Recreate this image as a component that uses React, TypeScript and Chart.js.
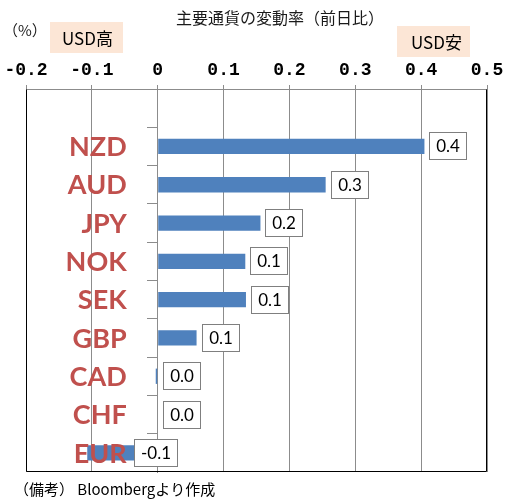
import React, { useEffect, useRef } from 'react';
import { Chart, registerables } from 'chart.js';

Chart.register(...registerables);

// Blank first slot leaves headroom above NZD inside the frame.
const categories = ['', 'NZD', 'AUD', 'JPY', 'NOK', 'SEK', 'GBP', 'CAD', 'CHF', 'EUR'];
const changes: (number | null)[] = [null, 0.405, 0.255, 0.156, 0.133, 0.134, 0.059, -0.003, 0.0, -0.107];

const xTicks = [-0.2, -0.1, 0, 0.1, 0.2, 0.3, 0.4, 0.5];
const xTickLabels = ['-0.2', '-0.1', '0', '0.1', '0.2', '0.3', '0.4', '0.5'];

const chartTitle = '主要通貨の変動率（前日比）';
const unitLabel = '（%）';
const usdStrong = 'USD高';
const usdWeak = 'USD安';
const sourceNote = '（備考） Bloombergより作成';

const BAR_BLUE = '#4F81BD';
const CAT_RED = '#C0504D';
const GRID_GRAY = '#8c8c8c';
const NOTE_BG = '#FCE6D6';
const JP_FONT = '"Noto Sans CJK JP", "Noto Sans", sans-serif';

function fmt(v: number): string {
  const s = v.toFixed(1);
  return s === '-0.0' ? '0.0' : s;
}

const decorations = {
  id: 'decorations',
  afterDraw(chart: any) {
    const { ctx, chartArea } = chart;
    const xs = chart.scales.x;
    const ys = chart.scales.y;
    ctx.save();

    // frame: left, right, bottom in black (top edge is the gray axis line)
    ctx.strokeStyle = '#000';
    ctx.lineWidth = 1;
    ctx.beginPath();
    const L = Math.round(chartArea.left) + 0.5;
    const R = Math.round(chartArea.right) - 0.5;
    const B = Math.round(chartArea.bottom) - 0.5;
    const T = Math.round(chartArea.top) + 0.5;
    ctx.moveTo(L, T);
    ctx.lineTo(L, B);
    ctx.lineTo(R, B);
    ctx.lineTo(R, T);
    ctx.stroke();

    const zero = xs.getPixelForValue(0);

    // currency names, right-aligned left of the zero axis, over the bars
    ctx.font = 'bold 27px Lato, "Open Sans", sans-serif';
    ctx.fillStyle = CAT_RED;
    ctx.textAlign = 'right';
    ctx.textBaseline = 'middle';
    categories.forEach((name, i) => {
      if (!name) return;
      ctx.fillText(name, zero - 31, ys.getPixelForValue(i) + 1);
    });

    // value boxes
    const meta = chart.getDatasetMeta(0);
    ctx.font = '17px Lato, "Open Sans", sans-serif';
    ctx.textAlign = 'center';
    meta.data.forEach((bar: any, i: number) => {
      const v = changes[i];
      if (v === null || v === undefined) return;
      const text = fmt(v);
      const tw = ctx.measureText(text).width;
      const w = Math.round(tw + 14);
      const h = 28;
      const left = Math.round(v > -0.05 ? Math.max(bar.x, zero) + 5 : zero - 24);
      const top = Math.round(bar.y - h / 2);
      ctx.fillStyle = '#fff';
      ctx.fillRect(left, top, w, h);
      ctx.strokeStyle = '#7f7f7f';
      ctx.strokeRect(left + 0.5, top + 0.5, w - 1, h - 1);
      ctx.fillStyle = '#000';
      ctx.fillText(text, left + w / 2, top + h / 2 + 1);
    });

    // header texts
    ctx.textAlign = 'center';
    ctx.fillStyle = '#1a1a1a';
    ctx.font = `16px ${JP_FONT}`;
    ctx.fillText(chartTitle, 280, 18);

    ctx.textAlign = 'left';
    ctx.font = `15px ${JP_FONT}`;
    ctx.fillText(unitLabel, 3, 30);

    ctx.fillStyle = NOTE_BG;
    ctx.fillRect(50, 22, 73, 31);
    ctx.fillRect(397, 26, 73, 31);
    ctx.fillStyle = '#000';
    ctx.font = `17px ${JP_FONT}`;
    ctx.fillText(usdStrong, 62, 39);
    ctx.fillText(usdWeak, 411, 43);

    ctx.font = `15px ${JP_FONT}`;
    ctx.fillText(sourceNote, 14, 489);

    ctx.restore();
  },
};

export default function App() {
  const canvasRef = useRef<HTMLCanvasElement | null>(null);

  useEffect(() => {
    const canvas = canvasRef.current;
    if (!canvas) return;
    const chart = new Chart(canvas, {
      type: 'bar',
      data: {
        labels: categories,
        datasets: [
          {
            data: changes as any,
            backgroundColor: BAR_BLUE,
            borderWidth: 0,
            barPercentage: 0.4,
            categoryPercentage: 1.0,
          },
        ],
      },
      options: {
        indexAxis: 'y',
        animation: false,
        responsive: false,
        devicePixelRatio: 1,
        layout: { padding: { left: 26, right: 27, top: 0, bottom: 32 } },
        plugins: {
          legend: { display: false },
          tooltip: { enabled: false },
          title: { display: false },
        },
        scales: {
          x: {
            type: 'linear',
            position: 'top',
            min: -0.2,
            max: 0.5,
            afterBuildTicks: (s: any) => {
              s.ticks = xTicks.map((v) => ({ value: v }));
            },
            afterFit: (s: any) => {
              s.height = 89;
            },
            grid: { color: GRID_GRAY, tickLength: 4, lineWidth: 1 },
            border: { color: GRID_GRAY },
            ticks: {
              autoSkip: false,
              maxRotation: 0,
              padding: 4,
              color: '#000',
              font: { family: '"Liberation Mono", "DejaVu Sans Mono", monospace', size: 18, weight: 'bold' },
              callback: (value: any) => {
                const idx = xTicks.findIndex((t) => Math.abs(t - Number(value)) < 1e-9);
                return idx >= 0 ? xTickLabels[idx] : '';
              },
            },
          },
          y: {
            type: 'category',
            position: { x: 0 } as any,
            offset: true,
            grid: {
              offset: true,
              drawOnChartArea: false,
              drawTicks: true,
              tickLength: 10,
              color: GRID_GRAY,
            },
            border: { color: GRID_GRAY },
            ticks: { display: false },
          },
        },
      },
      plugins: [decorations],
    });
    return () => chart.destroy();
  }, []);

  return (
    <div style={{ position: 'fixed', left: 0, top: 0, width: 514, height: 504, background: '#fff' }}>
      <canvas ref={canvasRef} width={514} height={504} style={{ display: 'block', width: 514, height: 504 }} />
    </div>
  );
}
